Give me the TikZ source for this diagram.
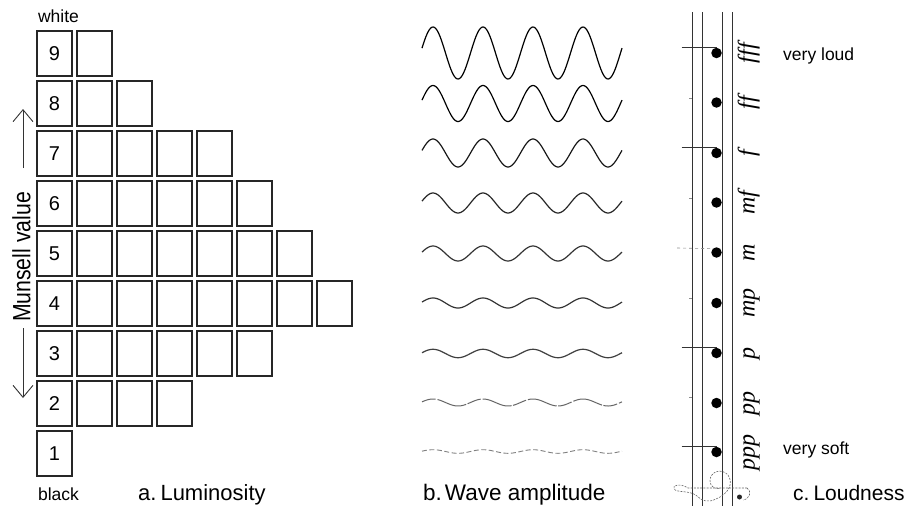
\documentclass[tikz,border=0pt]{standalone}
\usepackage{fontspec}
\setmainfont{Liberation Sans}
\newfontfamily\dynfont{Liberation Serif}
\usetikzlibrary{arrows.meta}

\begin{document}
\begin{tikzpicture}[x=1pt,y=-1pt,
  cell/.style={draw=black!85, line width=1.3pt, minimum width=35pt, minimum height=45pt,
    inner sep=0pt, font=\fontsize{20}{20}\selectfont},
  small/.style={font=\fontsize{17.5}{18}\selectfont, inner sep=0pt},
  caption/.style={font=\fontsize{22}{22}\selectfont, inner sep=0pt, anchor=base west},
  dyn/.style={font=\dynfont\itshape\fontsize{24}{24}\selectfont, rotate=90, anchor=base, inner sep=0pt},
  wave/.style={line width=1.2pt, line join=round},
  staff/.style={line width=0.9pt, black!80},
  ledger/.style={line width=0.8pt, black!80},
  tick/.style={line width=0.6pt, black!45},
  clefline/.style={line width=0.6pt, black!60, dash pattern=on 2pt off 1.2pt},
  valarrow/.style={line width=0.9pt, black!80, -{Straight Barb[length=12pt, width=20pt, line width=0.9pt]}}
]
\useasboundingbox (0,0) rectangle (907,506);

% ---------- a. Luminosity: Munsell value chart ----------
\foreach \r/\n in {9/2,8/3,7/5,6/6,5/7,4/8,3/6,2/4,1/1} {
  \node[cell] (c-\r-1) at (54.5, {53.5+(9-\r)*50}) {\r};
  \ifnum\n>1
    \foreach \c in {2,...,\n} {
      \node[cell] (c-\r-\c) at ({54.5+(\c-1)*40}, {53.5+(9-\r)*50}) {};
    }
  \fi
}
\node[small, anchor=base] (white) at (58.5,23) {white};
\node[small, anchor=base] (black) at (58.5,500) {black};
\node[caption] (capA) at (138,500) {a.\hspace{4pt}Luminosity};

\node[rotate=90, inner sep=0pt] (munsell) at (21.5,257)
  {\scalebox{0.85}[1]{\fontsize{25}{25}\selectfont Munsell value}};
\coordinate (upS) at (23,168);
\coordinate (upE) at (23,109);
\coordinate (dnS) at (23,328);
\coordinate (dnE) at (23,398);
\draw[valarrow] (upS) -- (upE);
\draw[valarrow] (dnS) -- (dnE);

% ---------- b. Wave amplitude ----------
\foreach \m/\a/\col in {53/26/black, 103.5/18/black, 153/14/black!90, 203/10/black!85,
                         253.5/7.5/black!80, 303/5/black!80, 353.5/4.2/black!75} {
  \draw[wave, \col] plot[domain=422:622, samples=160, smooth] (\x, {\m - \a*sin(7.2*(\x-420.5))});
}
\draw[wave, line width=1pt, black!60, dash pattern=on 14pt off 2pt on 30pt off 1.5pt]
  plot[domain=422:622, samples=160, smooth] (\x, {402.5 - 3.5*sin(7.2*(\x-420.5))});
\draw[wave, line width=0.9pt, black!50, dash pattern=on 5pt off 2.5pt]
  plot[domain=422:622, samples=160, smooth] (\x, {451.5 - 1.8*sin(7.2*(\x-420.5))});
\node[caption, font=\fontsize{22.5}{23}\selectfont] (capB) at (423,500) {b.\hspace{3pt}Wave amplitude};

% ---------- c. Loudness ----------
\foreach \x/\k in {692/1, 702/2, 722/3, 732/4} {
  \coordinate (st\k) at (\x,12);
  \coordinate (sb\k) at (\x,506);
  \draw[staff] (st\k) -- (sb\k);
}
\foreach \y/\k/\t in {53/1/fff, 102.5/2/ff, 153/3/f, 202.5/4/mf, 252.5/5/m, 303/6/mp, 353/7/p, 403/8/pp, 452/9/ppp} {
  \node[circle, fill=black, minimum size=10.5pt, inner sep=0pt] (dot\k) at (716.5,\y) {};
  \node[dyn] (dyn\k) at (754.5,\y) {\t};
}
\foreach \k in {1,3,7,9} {
  \coordinate (led\k) at ([xshift=-35pt]dot\k.north);
  \draw[ledger] (led\k) -- (dot\k.north);
}
\foreach \y in {98,198,298,397} { \draw[tick] (689,\y) -- (692,\y); }
\coordinate (midL) at (677,248);
\draw[tick, dash pattern=on 3pt off 3pt] (midL) -- (dot5.north west);

\node[small, anchor=base west] (loud) at (783,60) {very loud};
\node[small, anchor=base west] (soft) at (783,454) {very soft};
\node[caption, font=\fontsize{21}{22}\selectfont] (capC) at (793,500) {c.\hspace{4pt}Loudness};

% rotated treble clef at the foot of the staff
\draw[clefline] (747,488) -- (688,488)
  .. controls (680,483) and (672,485) .. (674,489)
  .. controls (677,493) and (690,490) .. (697,496)
  .. controls (702,501) and (708,503) .. (716,499)
  .. controls (728,494) and (734,484) .. (728,475)
  .. controls (722,468) and (710,471) .. (710,481)
  .. controls (710,487) and (716,490) .. (721,488);
\draw[clefline] (747,488) .. controls (752,491) and (750,499) .. (743,500);
\fill[black!85] (739.5,497) circle (2.5);
\end{tikzpicture}
\end{document}
